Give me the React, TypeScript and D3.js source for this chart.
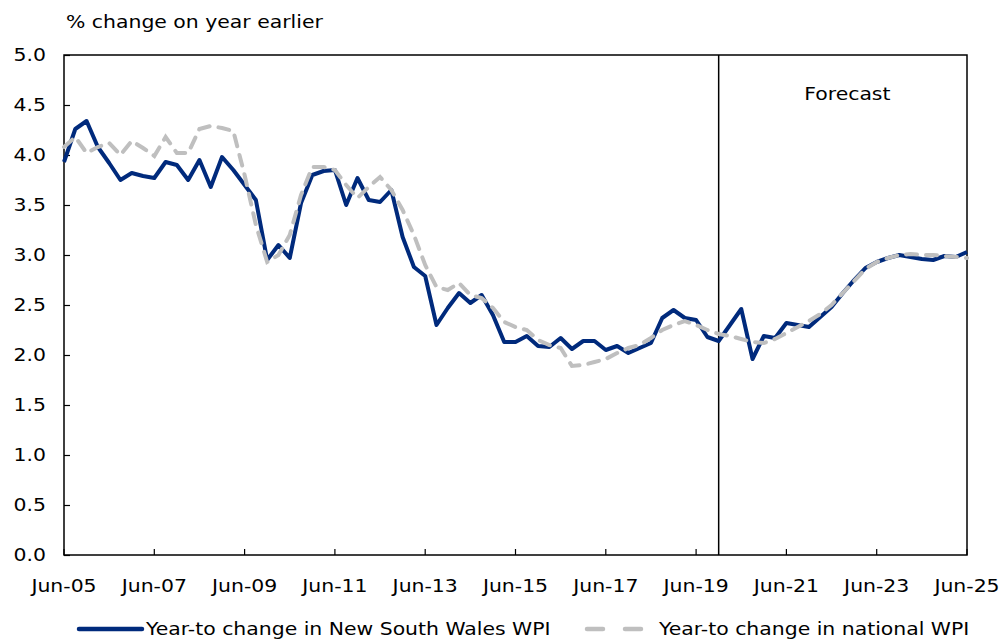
import * as d3 from 'd3';
import { useEffect, useRef } from 'react';

const WIDTH = 1008;
const HEIGHT = 644;
const MARGIN = { top: 55, right: 41, bottom: 89, left: 64 };

// quarterly, Jun-05 .. Jun-25 (81 points)
const START_YEAR = 2005;
const nswWpi = [
  3.93, 4.26, 4.34, 4.08, 3.92, 3.75, 3.82, 3.79, 3.77, 3.93,
  3.9, 3.75, 3.95, 3.68, 3.98, 3.85, 3.7, 3.55, 2.95, 3.1,
  2.97, 3.52, 3.8, 3.84, 3.85, 3.5, 3.77, 3.55, 3.53, 3.65,
  3.18, 2.88, 2.79, 2.3, 2.47, 2.62, 2.52, 2.6, 2.4, 2.13,
  2.13, 2.19, 2.09, 2.08, 2.17, 2.06, 2.14, 2.14, 2.05, 2.09,
  2.02, 2.07, 2.12, 2.37, 2.45, 2.37, 2.35, 2.18, 2.14, 2.3,
  2.46, 1.96, 2.19, 2.17, 2.32, 2.3, 2.28, 2.38, 2.48, 2.62,
  2.75, 2.87, 2.93, 2.97, 3.0, 2.98, 2.96, 2.95, 2.99, 2.98,
  3.03,
];
const nationalWpi = [
  4.08, 4.18, 4.02, 4.08, 4.12, 4.0, 4.14, 4.07, 3.99, 4.18,
  4.02, 4.02, 4.26, 4.29, 4.27, 4.24, 3.8, 3.3, 2.93, 3.0,
  3.2, 3.6, 3.88, 3.88, 3.85, 3.7, 3.57, 3.68, 3.78, 3.65,
  3.45, 3.2, 2.9, 2.68, 2.65, 2.72, 2.6, 2.57, 2.47, 2.33,
  2.28, 2.25, 2.15, 2.1, 2.07, 1.89, 1.9, 1.93, 1.96, 2.02,
  2.07, 2.1, 2.17, 2.25, 2.3, 2.34, 2.3, 2.25, 2.21, 2.19,
  2.16, 2.13, 2.12, 2.16, 2.22, 2.28, 2.34, 2.41, 2.5, 2.62,
  2.74, 2.86, 2.93, 2.97, 3.0, 3.01, 3.0, 3.0, 2.99, 2.98,
  2.97,
];
const yTicks = [0, 0.5, 1, 1.5, 2, 2.5, 3, 3.5, 4, 4.5, 5];
const xTickYears = [2005, 2007, 2009, 2011, 2013, 2015, 2017, 2019, 2021, 2023, 2025];
const forecastStart = 58; // quarter index, Dec-19
const legendLabels = ['Year-to change in New South Wales WPI', 'Year-to change in national WPI'];

const NAVY = '#002a7c';
const GREY = '#bfbfbf';
const FONT = '"DejaVu Sans", Verdana, sans-serif';
const SX = 1.2; // the source font is wider than DejaVu at the same height

type Sel = d3.Selection<SVGGElement, unknown, null, undefined>;

// wide text: place at (x,y), then stretch horizontally
function wideText(
  parent: Sel,
  x: number,
  y: number,
  str: string,
  anchor: 'start' | 'middle' | 'end' = 'start',
  dy = '0',
) {
  parent
    .append('text')
    .attr('transform', `translate(${x},${y}) scale(${SX},1)`)
    .attr('text-anchor', anchor)
    .attr('dy', dy)
    .attr('fill', '#000')
    .style('font-family', FONT)
    .style('font-size', '17px')
    .text(str);
}

export default function App() {
  const ref = useRef<SVGSVGElement>(null);

  useEffect(() => {
    const svg = d3.select(ref.current);
    svg.selectAll('*').remove();

    const iw = WIDTH - MARGIN.left - MARGIN.right;
    const ih = HEIGHT - MARGIN.top - MARGIN.bottom;

    const x = d3.scaleLinear().domain([0, nswWpi.length - 1]).range([0, iw]);
    const y = d3.scaleLinear().domain([0, 5]).range([ih, 0]);

    const root = svg.append('g') as unknown as Sel;
    const g = root
      .append('g')
      .attr('transform', `translate(${MARGIN.left},${MARGIN.top})`);

    // frame
    g.append('rect')
      .attr('width', iw)
      .attr('height', ih)
      .attr('fill', 'none')
      .attr('stroke', '#000')
      .attr('stroke-width', 1.5);

    // y ticks (inside)
    const yAxis = d3
      .axisRight(y)
      .tickValues(yTicks)
      .tickSize(6)
      .tickFormat(() => '');
    g.append('g')
      .call(yAxis)
      .call((s) => s.select('.domain').remove())
      .selectAll('line')
      .attr('stroke-width', 1.2);
    yTicks.forEach((d) => wideText(g, -18, y(d), d.toFixed(1), 'end', '0.36em'));

    // x ticks (inside)
    const xIdx = xTickYears.map((yr) => (yr - START_YEAR) * 4);
    g.append('g')
      .selectAll('line')
      .data(xIdx)
      .join('line')
      .attr('x1', (d) => x(d))
      .attr('x2', (d) => x(d))
      .attr('y1', ih)
      .attr('y2', ih - 6)
      .attr('stroke', '#000')
      .attr('stroke-width', 1.2);
    xTickYears.forEach((yr) =>
      wideText(
        g,
        x((yr - START_YEAR) * 4),
        ih + 37,
        `Jun-${String(yr % 100).padStart(2, '0')}`,
        'middle',
      ),
    );

    // forecast divider
    g.append('line')
      .attr('x1', x(forecastStart))
      .attr('x2', x(forecastStart))
      .attr('y1', 0)
      .attr('y2', ih)
      .attr('stroke', '#000')
      .attr('stroke-width', 1.5);
    wideText(g, x(69.4), 45, 'Forecast', 'middle');

    const line = d3
      .line<number>()
      .x((_, i) => x(i))
      .y((d) => y(d));

    g.append('path')
      .datum(nswWpi)
      .attr('d', line)
      .attr('fill', 'none')
      .attr('stroke', NAVY)
      .attr('stroke-width', 4)
      .attr('stroke-linejoin', 'round');

    g.append('path')
      .datum(nationalWpi)
      .attr('d', line)
      .attr('fill', 'none')
      .attr('stroke', GREY)
      .attr('stroke-width', 4)
      .attr('stroke-dasharray', '11,9')
      .attr('stroke-linecap', 'round');

    // y-axis title
    wideText(root, 66, 28, '% change on year earlier');

    // legend
    const ly = 629;
    root
      .append('line')
      .attr('x1', 79)
      .attr('x2', 142)
      .attr('y1', ly)
      .attr('y2', ly)
      .attr('stroke', NAVY)
      .attr('stroke-width', 4.5)
      .attr('stroke-linecap', 'round');
    wideText(root, 146, ly, legendLabels[0], 'start', '0.36em');
    root
      .append('line')
      .attr('x1', 587)
      .attr('x2', 645)
      .attr('y1', ly)
      .attr('y2', ly)
      .attr('stroke', GREY)
      .attr('stroke-width', 4.5)
      .attr('stroke-dasharray', '16,22')
      .attr('stroke-linecap', 'round');
    wideText(root, 659, ly, legendLabels[1], 'start', '0.36em');
  }, []);

  return (
    <div style={{ position: 'fixed', top: 0, left: 0 }}>
      <svg ref={ref} width={WIDTH} height={HEIGHT} style={{ display: 'block', background: '#fff' }} />
    </div>
  );
}
